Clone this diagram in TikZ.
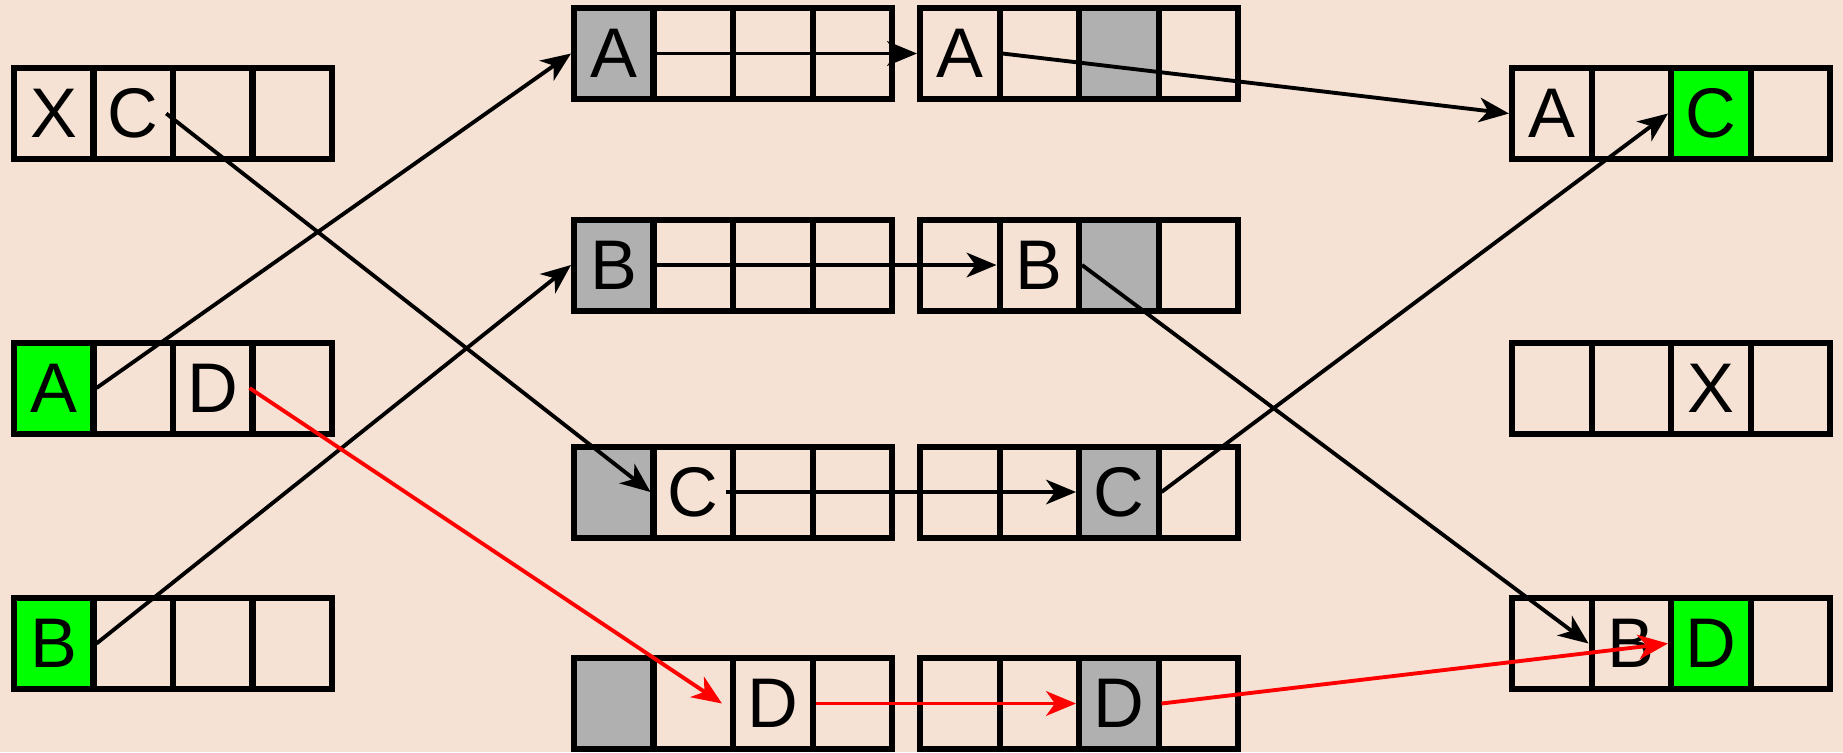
\documentclass[tikz,border=0pt]{standalone}
\usepackage{fontspec}
\setmainfont{Liberation Sans}
\usetikzlibrary{arrows.meta}
\definecolor{bgpeach}{RGB}{245,226,212}
\definecolor{cellgray}{RGB}{176,176,176}
\definecolor{cellgreen}{RGB}{0,255,0}

% one record of four cells: name, left x, centre y, list of style/letter
\newcommand{\record}[4]{%
	\foreach \sty/\lbl [count=\i] in {#4}
	\node[cell,\sty] (#1-\i) at ({#2+(\i-0.5)*79.5},#3) {\lbl};
}

\begin{document}
\begin{tikzpicture}[x=0.02cm,y=-0.02cm,
	cell/.style={draw,line width=0.12cm,minimum width=1.59cm,minimum height=1.82cm,
		inner sep=0pt,font=\fontsize{40}{44}\selectfont},
	cn/.style={},
	cg/.style={fill=cellgray},
	cv/.style={fill=cellgreen},
	link/.style={-{Stealth[length=17pt,width=14pt,inset=5pt]},line width=2.2pt},
	redlink/.style={link,red}]
	
	\fill[bgpeach] (0,0) rectangle (1843,752);
	\useasboundingbox (0,0) rectangle (1843,752);
	
	% left column
	\record{L1}{14}{113.5}{cn/X,cn/C,cn/{},cn/{}}
	\record{L2}{14}{388}{cv/A,cn/{},cn/D,cn/{}}
	\record{L3}{14}{643.5}{cv/B,cn/{},cn/{},cn/{}}
	
	% middle columns
	\record{M1a}{574}{53.5}{cg/A,cn/{},cn/{},cn/{}}
	\record{M1b}{920}{53.5}{cn/A,cn/{},cg/{},cn/{}}
	\record{M2a}{574}{265}{cg/B,cn/{},cn/{},cn/{}}
	\record{M2b}{920}{265}{cn/{},cn/B,cg/{},cn/{}}
	\record{M3a}{574}{492}{cg/{},cn/C,cn/{},cn/{}}
	\record{M3b}{920}{492}{cn/{},cn/{},cg/C,cn/{}}
	\record{M4a}{574}{703.5}{cg/{},cn/{},cn/D,cn/{}}
	\record{M4b}{920}{703.5}{cn/{},cn/{},cg/D,cn/{}}
	
	% right column
	\record{R1}{1512}{113.5}{cn/A,cn/{},cv/C,cn/{}}
	\record{R2}{1512}{388}{cn/{},cn/{},cn/X,cn/{}}
	\record{R3}{1512}{643.5}{cn/{},cn/B,cv/D,cn/{}}
	
	% pointers
	\draw[link] (L2-1.east) -- (M1a-1.west);
	\draw[link] (L3-1.east) -- (M2a-1.west);
	\draw[link] ([shift={(33,0)}]L1-2.center) -- (M3a-2.west);
	\draw[redlink] (L2-4.west) -- ([shift={(-8,0)}]M4a-3.west);
	
	\draw[link] (M1a-1.east) -- (M1b-1.west);
	\draw[link] (M1b-1.east) -- (R1-1.west);
	\draw[link] (M2a-1.east) -- (M2b-2.west);
	\draw[link] ([shift={(6,0)}]M2b-3.west) -- (R3-2.west);
	\draw[link] ([shift={(33,0)}]M3a-2.center) -- (M3b-3.west);
	\draw[link] (M3b-3.east) -- (R1-3.west);
	\draw[redlink] (M4a-3.east) -- (M4b-3.west);
	\draw[redlink] (M4b-3.east) -- (R3-3.west);
	
\end{tikzpicture}
\end{document}
